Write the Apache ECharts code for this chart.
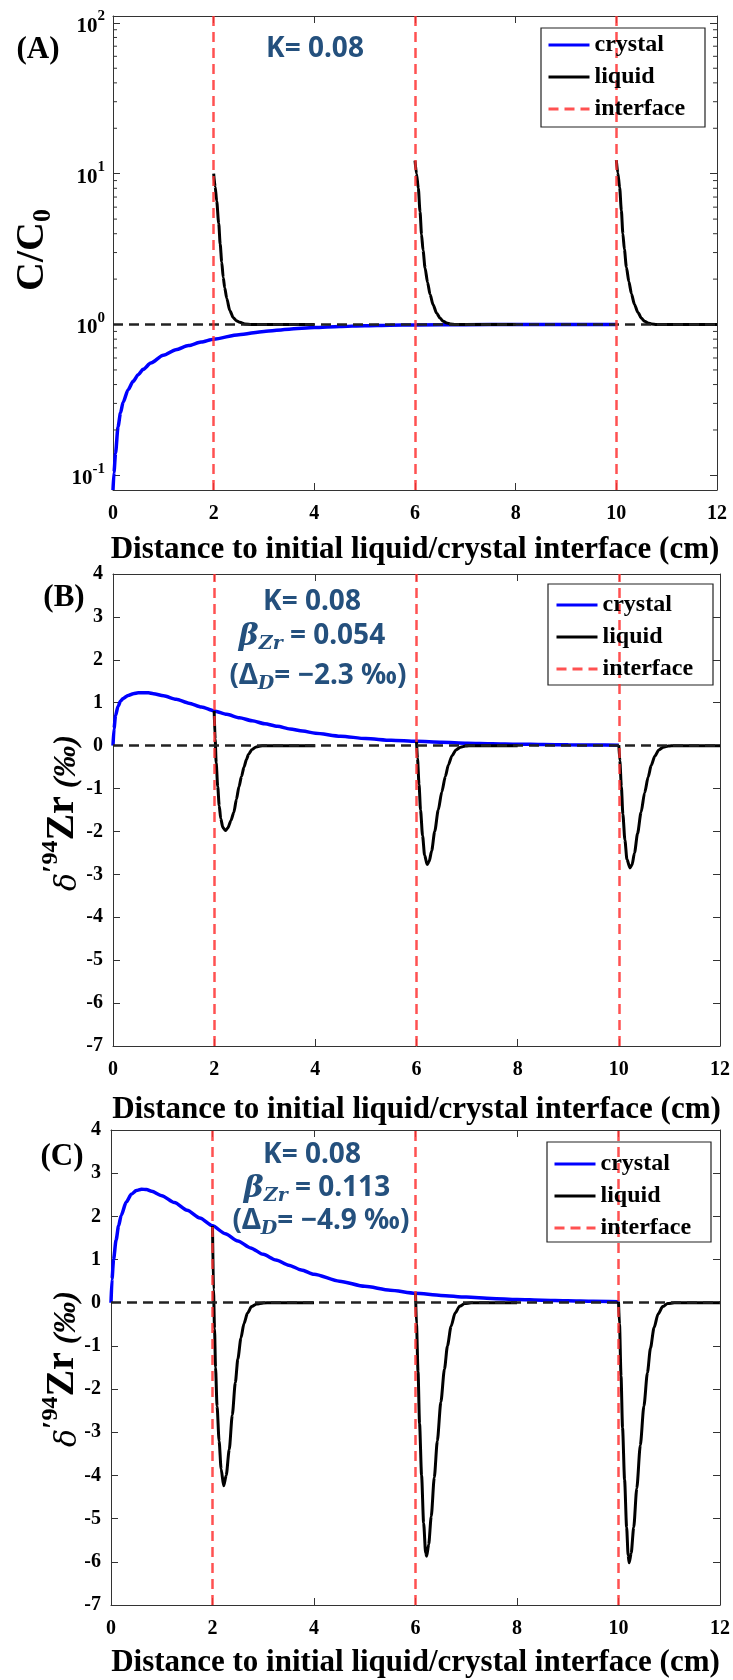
<!DOCTYPE html>
<html><head><meta charset="utf-8">
<script src="https://cdn.jsdelivr.net/npm/echarts@6/dist/echarts.min.js"></script>
<style>html,body{margin:0;padding:0;background:#fff}#c{width:733px;height:1680px}</style>
</head><body><div id="c"></div><script>
// ---------------- data ----------------
const xMin = 0, xMax = 12, xInterval = 2;
const interfaces = [2, 6, 10];
const refA = 1, refBC = 0;
const logMin = 0.08, logMax = 111;
const linMin = -7, linMax = 4, linInterval = 1;
const minorTicksA = [0.2,0.3,0.4,0.5,0.6,0.7,0.8,0.9,2,3,4,5,6,7,8,9,20,30,40,50,60,70,80,90];
const xTitle = 'Distance to initial liquid/crystal interface (cm)';

// Panel A: C/C0
const crystalA = [[0,0.08],[0.02,0.105],[0.05,0.14],[0.1,0.21],[0.15,0.26],[0.2,0.305],[0.3,0.37],[0.4,0.42],[0.5,0.465],[0.6,0.505],[0.75,0.555],[1.0,0.625],[1.25,0.68],[1.5,0.725],[1.75,0.765],[2.0,0.8],[2.5,0.857],[3.0,0.9],[3.5,0.932],[4.0,0.955],[4.5,0.97],[5.0,0.982],[5.5,0.99],[6.0,0.994],[7.0,0.998],[8.0,1.0],[10.0,1.0]];
const liquidA1 = [[2.0,10.0],[2.03,8.2],[2.06,6.6],[2.1,4.7],[2.13,3.4],[2.16,2.6],[2.19,2.05],[2.22,1.75],[2.26,1.49],[2.32,1.24],[2.39,1.11],[2.45,1.06],[2.52,1.035],[2.62,1.01],[2.75,1.0],[4.0,1.0]];
const liquidA2 = [[6.0,12.2],[6.03,10.0],[6.066,8.0],[6.1,5.6],[6.13,3.95],[6.16,3.1],[6.2,2.37],[6.25,1.9],[6.3,1.58],[6.36,1.35],[6.43,1.19],[6.5,1.1],[6.56,1.05],[6.63,1.025],[6.7,1.01],[6.8,1.0],[8.0,1.0]];
const liquidA3 = [[10.0,12.3],[10.03,10.1],[10.066,8.1],[10.1,5.7],[10.13,4.0],[10.16,3.15],[10.2,2.4],[10.25,1.92],[10.3,1.6],[10.36,1.36],[10.43,1.2],[10.5,1.1],[10.56,1.05],[10.63,1.025],[10.7,1.01],[10.8,1.0],[12.0,1.0]];

// Panel B: delta 94Zr, beta 0.054
const crystalB = [[0,0],[0.02,0.4],[0.05,0.7],[0.1,0.92],[0.15,1.04],[0.2,1.1],[0.3,1.17],[0.4,1.21],[0.5,1.23],[0.6,1.235],[0.7,1.23],[0.8,1.21],[1.0,1.16],[1.25,1.08],[1.5,0.99],[1.75,0.9],[2.0,0.81],[2.25,0.73],[2.5,0.65],[2.75,0.58],[3.0,0.51],[3.25,0.45],[3.5,0.39],[3.75,0.34],[4.0,0.29],[4.5,0.22],[5.0,0.165],[5.5,0.125],[6.0,0.1],[6.5,0.077],[7.0,0.058],[7.5,0.045],[8.0,0.034],[8.5,0.026],[9.0,0.02],[9.5,0.015],[10.0,0.011]];
const liquidB1 = [[2.0,0.81],[2.02,0.15],[2.04,-0.4],[2.07,-0.95],[2.1,-1.4],[2.13,-1.7],[2.17,-1.9],[2.22,-1.98],[2.27,-1.92],[2.33,-1.75],[2.39,-1.55],[2.44,-1.25],[2.49,-0.96],[2.54,-0.72],[2.59,-0.5],[2.64,-0.32],[2.68,-0.2],[2.75,-0.09],[2.83,-0.03],[2.95,-0.005],[3.1,0],[4.0,0]];
const liquidB2 = [[6.0,0.1],[6.02,-0.3],[6.05,-0.9],[6.08,-1.5],[6.12,-2.1],[6.16,-2.55],[6.21,-2.77],[6.25,-2.7],[6.3,-2.45],[6.36,-2.0],[6.43,-1.5],[6.5,-1.08],[6.57,-0.72],[6.63,-0.45],[6.7,-0.24],[6.78,-0.1],[6.87,-0.035],[6.97,-0.01],[7.1,0],[8.0,0]];
const liquidB3 = [[10.0,0.011],[10.02,-0.35],[10.05,-0.95],[10.08,-1.6],[10.12,-2.2],[10.16,-2.65],[10.22,-2.85],[10.26,-2.78],[10.31,-2.5],[10.37,-2.05],[10.44,-1.55],[10.51,-1.1],[10.58,-0.73],[10.64,-0.46],[10.71,-0.25],[10.79,-0.1],[10.88,-0.035],[10.98,-0.01],[11.1,0],[12.0,0]];

// Panel C: delta 94Zr, beta 0.113
const crystalC = [[0,0],[0.02,0.55],[0.05,1.0],[0.1,1.45],[0.15,1.78],[0.2,2.02],[0.3,2.33],[0.4,2.51],[0.5,2.6],[0.6,2.63],[0.7,2.62],[0.8,2.58],[1.0,2.48],[1.25,2.32],[1.5,2.14],[1.75,1.96],[2.0,1.78],[2.25,1.6],[2.5,1.43],[2.75,1.27],[3.0,1.12],[3.25,0.99],[3.5,0.87],[3.75,0.76],[4.0,0.66],[4.5,0.5],[5.0,0.38],[5.5,0.29],[6.0,0.22],[6.5,0.17],[7.0,0.13],[7.5,0.1],[8.0,0.075],[8.5,0.058],[9.0,0.045],[9.5,0.034],[10.0,0.025]];
const liquidC1 = [[2.0,1.78],[2.02,0.3],[2.04,-0.6],[2.06,-1.5],[2.09,-2.4],[2.13,-3.2],[2.17,-3.85],[2.22,-4.24],[2.27,-4.0],[2.33,-3.4],[2.39,-2.6],[2.45,-1.85],[2.5,-1.3],[2.56,-0.82],[2.62,-0.48],[2.69,-0.24],[2.77,-0.09],[2.87,-0.03],[3.0,-0.005],[3.15,0],[4.0,0]];
const liquidC2 = [[6.0,0.22],[6.02,-0.5],[6.05,-1.6],[6.08,-2.8],[6.12,-4.0],[6.16,-5.1],[6.2,-5.8],[6.22,-5.87],[6.26,-5.6],[6.31,-4.95],[6.37,-4.05],[6.43,-3.2],[6.5,-2.3],[6.57,-1.54],[6.63,-1.0],[6.7,-0.55],[6.78,-0.24],[6.87,-0.08],[6.97,-0.02],[7.1,0],[8.0,0]];
const liquidC3 = [[10.0,0.025],[10.02,-0.5],[10.05,-1.7],[10.08,-2.9],[10.12,-4.1],[10.16,-5.2],[10.19,-5.85],[10.21,-6.02],[10.25,-5.8],[10.3,-5.2],[10.36,-4.3],[10.43,-3.3],[10.5,-2.4],[10.57,-1.62],[10.63,-1.05],[10.7,-0.58],[10.78,-0.26],[10.87,-0.09],[10.97,-0.02],[11.1,0],[12.0,0]];

// ---------------- styling ----------------
const SERIF = '"Liberation Serif","Times New Roman",serif';
const SANS = '"Noto Sans","Open Sans",sans-serif';
const MATH = '"DejaVu Serif",serif';
const AX = '#333';
const BLUE = '#0000ff', RED = 'rgba(255,50,50,0.85)', ANN = '#24507D';

const grids = [
  {left:113, top:16, width:604, height:474},
  {left:113, top:574, width:611, height:472},
  {left:111, top:1130, width:612, height:475}
];
const nameGaps = [44, 48, 42];

const xAxes = [], yAxes = [];
grids.forEach((g, i) => {
  const common = {type:'value', gridIndex:i, min:xMin, max:xMax, interval:xInterval,
    axisLine:{show:true, onZero:false, lineStyle:{color:AX, width:1}},
    axisTick:{show:true, inside:true, length:7, lineStyle:{color:AX}},
    splitLine:{show:false}};
  xAxes.push(Object.assign({}, common, {position:'bottom',
    axisLabel:{margin:14, fontFamily:SERIF, fontWeight:'bold', fontSize:20, color:'#000', showMinLabel:true, showMaxLabel:true},
    name:xTitle, nameLocation:'middle', nameGap:nameGaps[i],
    nameTextStyle:{fontFamily:SERIF, fontWeight:'bold', fontSize:31, color:'#000'}}));
  xAxes.push(Object.assign({}, common, {position:'top', axisLabel:{show:false}}));
  let yc;
  if (i === 0) {
    yc = {type:'log', logBase:10, gridIndex:0, min:logMin, max:logMax};
  } else {
    yc = {type:'value', gridIndex:i, min:linMin, max:linMax, interval:linInterval};
  }
  const ycommon = Object.assign(yc, {
    axisLine:{show:true, onZero:false, lineStyle:{color:AX, width:1}},
    axisTick:{show:true, inside:true, length:7, lineStyle:{color:AX}},
    splitLine:{show:false}});
  const leftLabel = i === 0 ? {
      margin:8, color:'#000',
      formatter: v => { const e = Math.round(Math.log10(v)); if (Math.abs(Math.pow(10,e)-v)/v > 1e-6) return ''; return '{b|10}{e|' + e + '}'; },
      rich:{ b:{fontFamily:SERIF, fontWeight:'bold', fontSize:21, lineHeight:28, verticalAlign:'bottom', color:'#000'},
             e:{fontFamily:SERIF, fontWeight:'bold', fontSize:15, lineHeight:15, verticalAlign:'top', color:'#000'} }
    } : {margin:10, fontFamily:SERIF, fontWeight:'bold', fontSize:20, color:'#000', showMinLabel:true, showMaxLabel:true};
  yAxes.push(Object.assign({}, ycommon, {position:'left', axisLabel:leftLabel}));
  yAxes.push(Object.assign({}, ycommon, {position:'right', axisLabel:{show:false}}));
});

function lineSeries(name, data, idx, color, width) {
  return {type:'line', name, data, xAxisIndex:idx*2, yAxisIndex:idx*2, symbol:'none', showSymbol:false,
    smooth:0.25, smoothMonotone:'x', color, lineStyle:{color, width}, itemStyle:{color}, z:2, silent:true};
}
function refSeries(idx, val) {
  return {type:'line', name:'ref'+idx, data:[], xAxisIndex:idx*2, yAxisIndex:idx*2, z:3, silent:true,
    markLine:{silent:true, symbol:'none', label:{show:false}, animation:false,
      lineStyle:{color:'#222', type:[10,6], width:2.5}, data:[{yAxis:val}]}};
}
function ifaceSeries(idx) {
  return {type:'line', name:'interface', data:[], xAxisIndex:idx*2, yAxisIndex:idx*2, z:3, symbol:'none', silent:true,
    color:RED, lineStyle:{color:RED, type:[10,6], width:2.5}, itemStyle:{color:RED},
    markLine:{silent:true, symbol:'none', label:{show:false}, animation:false,
      lineStyle:{color:RED, type:[10,6], width:2.5}, data:interfaces.map(x => ({xAxis:x}))}};
}

const series = [
  lineSeries('crystal', crystalA, 0, BLUE, 3.5),
  lineSeries('liquid', liquidA1, 0, '#000', 3),
  lineSeries('liquid', liquidA2, 0, '#000', 3),
  lineSeries('liquid', liquidA3, 0, '#000', 3),
  refSeries(0, refA), ifaceSeries(0),
  {type:'custom', xAxisIndex:0, yAxisIndex:0, silent:true, z:4, data:minorTicksA.map(v => [0, v]),
   renderItem:(params, api) => {
     const p = api.coord([xMin, api.value(1)]);
     const q = api.coord([xMax, api.value(1)]);
     return {type:'group', children:[
       {type:'line', shape:{x1:p[0], y1:p[1], x2:p[0]+4, y2:p[1]}, style:{stroke:AX, lineWidth:1}},
       {type:'line', shape:{x1:q[0]-4, y1:q[1], x2:q[0], y2:q[1]}, style:{stroke:AX, lineWidth:1}}]};
   }},
  lineSeries('crystal', crystalB, 1, BLUE, 3.5),
  lineSeries('liquid', liquidB1, 1, '#000', 3),
  lineSeries('liquid', liquidB2, 1, '#000', 3),
  lineSeries('liquid', liquidB3, 1, '#000', 3),
  refSeries(1, refBC), ifaceSeries(1),
  lineSeries('crystal', crystalC, 2, BLUE, 3.5),
  lineSeries('liquid', liquidC1, 2, '#000', 3),
  lineSeries('liquid', liquidC2, 2, '#000', 3),
  lineSeries('liquid', liquidC3, 2, '#000', 3),
  refSeries(2, refBC), ifaceSeries(2)
];

const legendBoxes = [[541,28,164,99],[548,584,165,101],[547,1142,164,100]];
const legendPos = [[547,33],[555,593],[553,1152]];
const legends = legendPos.map(p => ({
  data:['crystal','liquid','interface'], orient:'vertical', left:p[0], top:p[1], padding:0,
  itemWidth:41, itemHeight:14, itemGap:8, selectedMode:false, z:6,
  itemStyle:{opacity:0}, lineStyle:{width:3},
  textStyle:{fontFamily:SERIF, fontWeight:'bold', fontSize:24, lineHeight:24, color:'#000'}
}));

const annRich = {
  k:{fontFamily:SANS, fontWeight:'bold', fontSize:28, lineHeight:32, verticalAlign:'top', fill:ANN},
  g:{fontFamily:MATH, fontStyle:'italic', fontWeight:'bold', fontSize:30, lineHeight:32, verticalAlign:'top', fill:ANN},
  s:{fontFamily:MATH, fontStyle:'italic', fontWeight:'bold', fontSize:19, lineHeight:19, verticalAlign:'bottom', fill:ANN}
};
function ann(x, yc, text) {
  return {type:'text', x, y:yc-14, z:10, silent:true, style:{text, rich:annRich, align:'center', verticalAlign:'top'}};
}
function panelLabel(x, y, t) {
  return {type:'text', x, y, z:10, silent:true, style:{text:t, fontFamily:SERIF, fontWeight:'bold', fontSize:31, fill:'#000', align:'center', verticalAlign:'middle'}};
}
const deltaRich = {
  d:{fontFamily:MATH, fontStyle:'italic', fontSize:30, lineHeight:30, verticalAlign:'bottom', fill:'#000'},
  p:{fontFamily:SERIF, fontWeight:'bold', fontSize:30, lineHeight:30, verticalAlign:'top', fill:'#000'},
  n:{fontFamily:SERIF, fontWeight:'bold', fontSize:24, lineHeight:24, verticalAlign:'top', fill:'#000'},
  z:{fontFamily:SERIF, fontWeight:'bold', fontSize:40, lineHeight:44, verticalAlign:'bottom', fill:'#000'},
  t:{fontFamily:SERIF, fontStyle:'italic', fontWeight:'bold', fontSize:32, lineHeight:32, verticalAlign:'bottom', fill:'#000'}
};
function deltaTitle(yc) {
  return {type:'text', x:39, y:yc, rotation:Math.PI/2, z:10, silent:true,
    style:{text:'{d|δ}{p|′}{n|94}{z|Zr}{t| (‰)}', rich:deltaRich, align:'center', verticalAlign:'top'}};
}

const graphic = [
  ...legendBoxes.map(b => ({type:'rect', z:5, silent:true, shape:{x:b[0], y:b[1], width:b[2], height:b[3]}, style:{fill:'#fff', stroke:'#222', lineWidth:1.2}})),
  panelLabel(38, 50, '(A)'), panelLabel(64, 598, '(B)'), panelLabel(62, 1157, '(C)'),
  {type:'text', x:13, y:250, rotation:Math.PI/2, z:10, silent:true,
   style:{text:'{a|C/C}{s|0}', align:'center', verticalAlign:'top', rich:{
     a:{fontFamily:SERIF, fontWeight:'bold', fontSize:40, lineHeight:43, verticalAlign:'top', fill:'#000'},
     s:{fontFamily:SERIF, fontWeight:'bold', fontSize:26, lineHeight:26, verticalAlign:'bottom', fill:'#000'}}}},
  deltaTitle(813), deltaTitle(1369),
  ann(315, 49, '{k|K= 0.08}'),
  ann(312, 602, '{k|K= 0.08}'),
  ann(312, 636, '{g|β}{s|Zr}{k| = 0.054}'),
  ann(318, 676, '{k|(Δ}{s|D}{k|= −2.3 ‰)}'),
  ann(312, 1155, '{k|K= 0.08}'),
  ann(317, 1188, '{g|β}{s|Zr}{k| = 0.113}'),
  ann(321, 1221, '{k|(Δ}{s|D}{k|= −4.9 ‰)}')
];

const chart = echarts.init(document.getElementById('c'), null, {renderer:'canvas'});
chart.setOption({animation:false, backgroundColor:'#fff', grid:grids, xAxis:xAxes, yAxis:yAxes, legend:legends, series, graphic});
</script></body></html>
